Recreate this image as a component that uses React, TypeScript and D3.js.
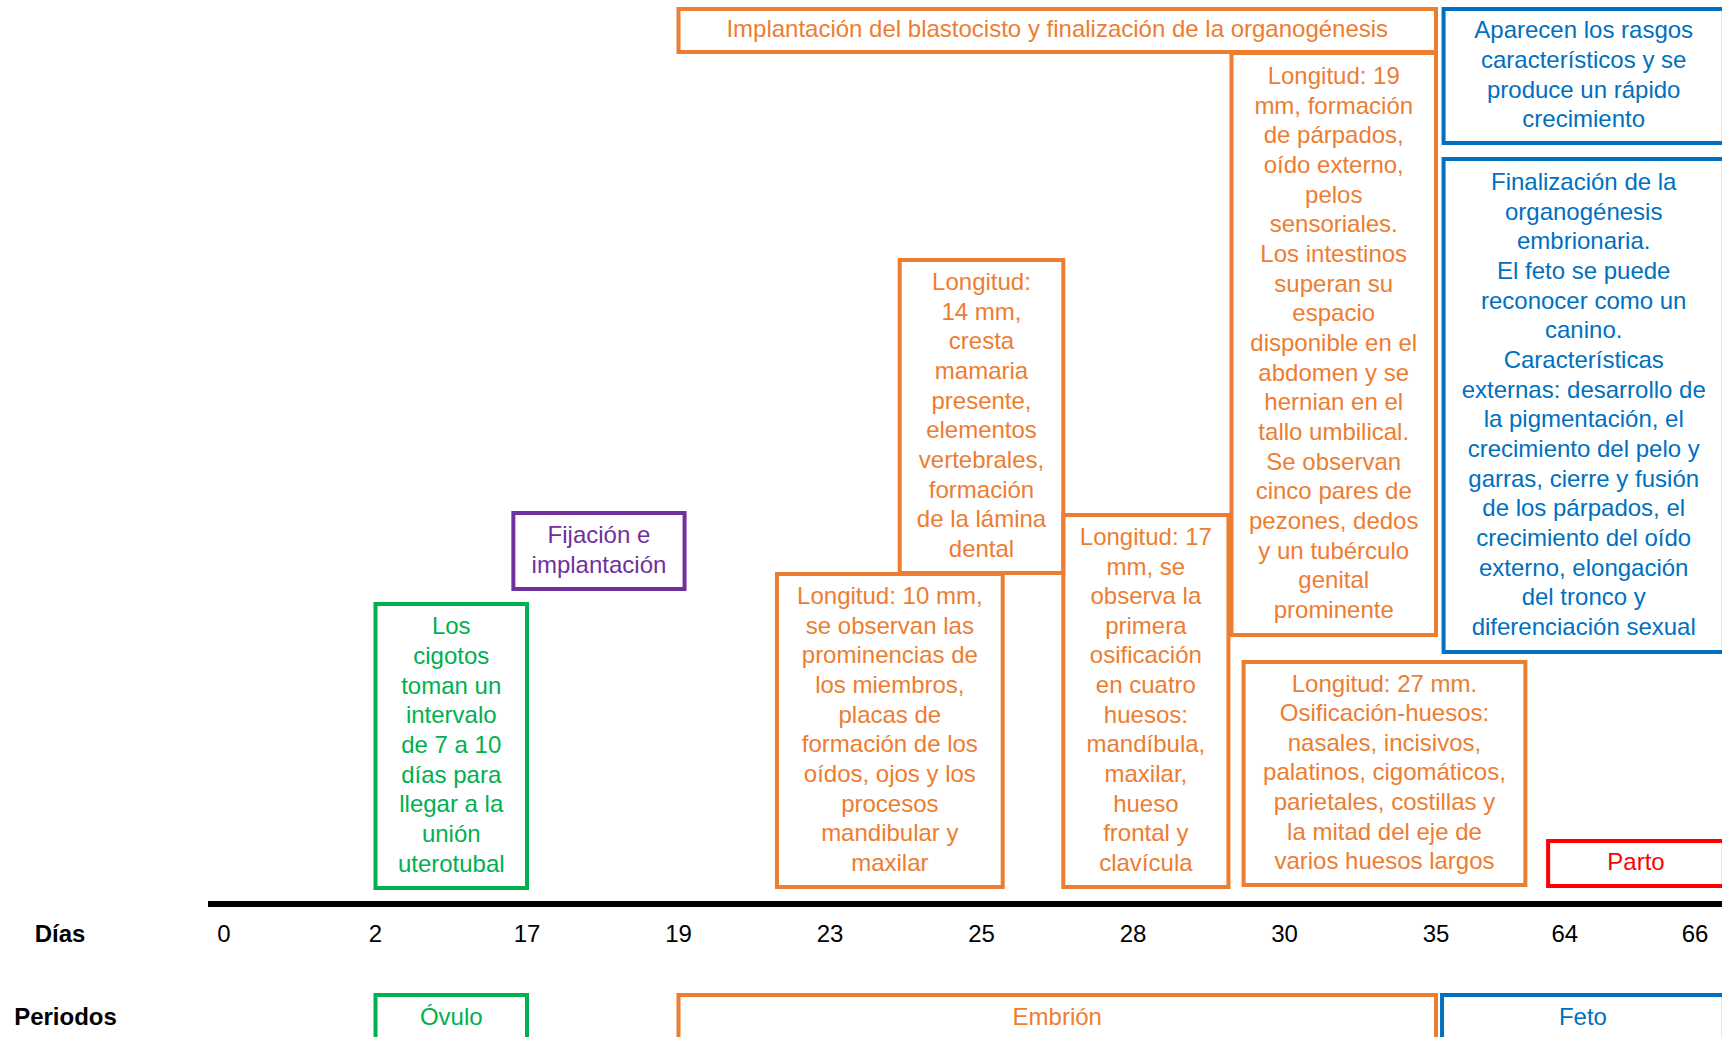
import React, { useEffect } from "react";
import * as d3 from "d3";

// ---- Data ----
const tickLabels = ["0", "2", "17", "19", "23", "25", "28", "30", "35", "64", "66"];
// position of each tick on the timeline (ordinal slot units)
const tickSlots = [0, 1, 2, 3, 4, 5, 6, 7, 8, 8.85, 9.71];

const boxTexts: string[][] = [
  ["Implantación del blastocisto y finalización de la organogénesis"],
  ["Aparecen los rasgos", "característicos y se", "produce un rápido", "crecimiento"],
  [
    "Finalización de la", "organogénesis", "embrionaria.", "El feto se puede", "reconocer como un",
    "canino.", "Características", "externas: desarrollo de", "la pigmentación, el",
    "crecimiento del pelo y", "garras, cierre y fusión", "de los párpados, el",
    "crecimiento del oído", "externo, elongación", "del tronco y", "diferenciación sexual",
  ],
  [
    "Longitud: 19", "mm, formación", "de párpados,", "oído externo,", "pelos", "sensoriales.",
    "Los intestinos", "superan su", "espacio", "disponible en el", "abdomen y se", "hernian en el",
    "tallo umbilical.", "Se observan", "cinco pares de", "pezones, dedos", "y un tubérculo",
    "genital", "prominente",
  ],
  [
    "Longitud:", "14 mm,", "cresta", "mamaria", "presente,", "elementos", "vertebrales,",
    "formación", "de la lámina", "dental",
  ],
  ["Fijación e", "implantación"],
  ["Los", "cigotos", "toman un", "intervalo", "de 7 a 10", "días para", "llegar a la", "unión", "uterotubal"],
  [
    "Longitud: 10 mm,", "se observan las", "prominencias de", "los miembros,", "placas de",
    "formación de los", "oídos, ojos y los", "procesos", "mandibular y", "maxilar",
  ],
  [
    "Longitud: 17", "mm, se", "observa la", "primera", "osificación", "en cuatro", "huesos:",
    "mandíbula,", "maxilar,", "hueso", "frontal y", "clavícula",
  ],
  [
    "Longitud: 27 mm.", "Osificación-huesos:", "nasales, incisivos,", "palatinos, cigomáticos,",
    "parietales, costillas y", "la mitad del eje de", "varios huesos largos",
  ],
  ["Parto"],
];
// timeline span of each box (slot units, start / end)
const boxStart = [3, 8.05, 8.05, 6.65, 4.46, 1.91, 1, 3.65, 5.54, 6.73, 8.74];
const boxEnd = [8, 9.9, 9.9, 8, 5.54, 3.04, 2, 5.14, 6.63, 8.59, 9.9];
const boxGroup = ["emb", "feto", "feto", "emb", "emb", "fij", "ovu", "emb", "emb", "emb", "parto"];

const periodLabels = ["Óvulo", "Embrión", "Feto"];
const periodStart = [1, 3, 8.04];
const periodEnd = [2, 8, 9.9];
const periodGroup = ["ovu", "emb", "feto"];

// ---- Layout / styles ----
const W = 1722;
const H = 1037;
const FONT = "'Liberation Sans', Arial, Helvetica, sans-serif";
const FS = 24;
const LH = 29.65;
const boxTop = [9, 9, 159, 53, 260, 513, 604, 574, 515, 662, 841];
const boxBottom = [52, 143, 652, 635, 573, 589, 888, 887, 887, 885, 886];
const colors: Record<string, string> = {
  emb: "#ED7D31",
  feto: "#0070C0",
  fij: "#7030A0",
  ovu: "#00B050",
  parto: "#FF0000",
};

export default function App() {
  useEffect(() => {
    document.body.style.margin = "0";
    document.body.style.overflow = "hidden";
  }, []);

  const x = d3.scaleLinear().domain([0, 8]).range([224, 1436]);
  const axisY = 904;
  const tickBaseline = 942;

  return (
    <svg
      width={W}
      height={H}
      style={{ position: "absolute", left: 0, top: 0, background: "#fff" }}
      fontFamily={FONT}
    >
      <rect x={0} y={0} width={W} height={H} fill="#fff" />
      {boxTexts.map((lines, i) => {
        const x0 = x(boxStart[i]);
        const x1 = x(boxEnd[i]);
        const y0 = boxTop[i];
        const y1 = boxBottom[i];
        const cx = (x0 + x1) / 2;
        const cy = (y0 + y1) / 2;
        const col = colors[boxGroup[i]];
        return (
          <g key={"b" + i}>
            <rect x={x0} y={y0} width={x1 - x0} height={y1 - y0} fill="none" stroke={col} strokeWidth={4} />
            {lines.map((ln, j) => (
              <text
                key={j}
                x={cx}
                y={cy + (j - (lines.length - 1) / 2) * LH + 0.29 * FS}
                textAnchor="middle"
                fontSize={FS}
                fill={col}
              >
                {ln}
              </text>
            ))}
          </g>
        );
      })}

      <line x1={208} x2={W} y1={axisY} y2={axisY} stroke="#000" strokeWidth={6} />
      <text x={60} y={tickBaseline} textAnchor="middle" fontSize={24} fontWeight="bold" fill="#000">
        Días
      </text>
      {tickLabels.map((t, i) => (
        <text key={t} x={x(tickSlots[i])} y={tickBaseline} textAnchor="middle" fontSize={24} fill="#000">
          {t}
        </text>
      ))}

      <text x={65.5} y={1025} textAnchor="middle" fontSize={24} fontWeight="bold" fill="#000">
        Periodos
      </text>
      {periodLabels.map((p, i) => {
        const x0 = x(periodStart[i]);
        const x1 = x(periodEnd[i]);
        const col = colors[periodGroup[i]];
        return (
          <g key={p}>
            <rect x={x0} y={995} width={x1 - x0} height={60} fill="none" stroke={col} strokeWidth={4} />
            <text x={(x0 + x1) / 2} y={1025} textAnchor="middle" fontSize={24} fill={col}>
              {p}
            </text>
          </g>
        );
      })}
    </svg>
  );
}
